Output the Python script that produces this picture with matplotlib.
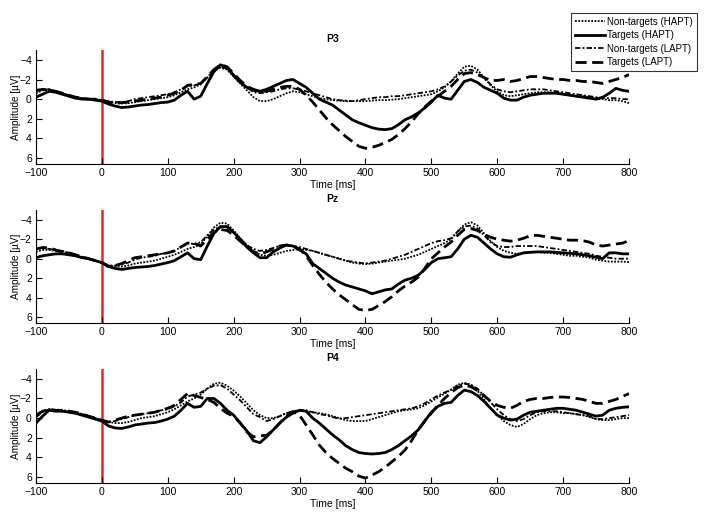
import matplotlib
matplotlib.use('Agg')
import matplotlib.pyplot as plt
import numpy as np

plt.rcParams['font.family'] = ['Liberation Sans', 'DejaVu Sans']

# time axis (ms), 10 ms steps
t = np.arange(-100, 801, 10)

channels = ['P3', 'Pz', 'P4']
labels = ['Non-targets (HAPT)', 'Targets (HAPT)', 'Non-targets (LAPT)', 'Targets (LAPT)']

# ---- P3 ----
p3_nt_hapt = [-0.6, -0.9, -1.0, -0.8, -0.6, -0.4, -0.2, -0.1, 0.0, 0.0, 0.1,
              0.3, 0.4, 0.45, 0.4, 0.3, 0.2, 0.1, 0.0, -0.1, -0.2,
              -0.4, -0.7, -1.0, -1.2, -1.5, -2.2, -2.9, -3.2, -3.0, -2.3,
              -1.6, -0.9, -0.2, 0.2, 0.2, 0.0, -0.3, -0.6, -0.8, -0.7,
              -0.5, -0.3, -0.1, 0.0, 0.1, 0.15, 0.2, 0.2, 0.2, 0.2,
              0.15, 0.1, 0.1, 0.05, 0.0, -0.1, -0.2, -0.3, -0.4, -0.5,
              -0.8, -1.2, -1.8, -2.6, -3.3, -3.4, -3.0, -2.2, -1.4, -0.8,
              -0.4, -0.3, -0.4, -0.5, -0.6, -0.7, -0.7, -0.7, -0.6, -0.5,
              -0.4, -0.3, -0.3, -0.2, 0.0, 0.0, 0.1, 0.1, 0.2, 0.4]
p3_t_hapt = [-0.2, -0.5, -0.8, -0.7, -0.5, -0.3, -0.1, 0.0, 0.0, 0.1, 0.2,
             0.5, 0.7, 0.85, 0.8, 0.7, 0.6, 0.55, 0.45, 0.35, 0.3,
             0.1, -0.4, -0.8, 0.0, -0.3, -1.6, -2.8, -3.5, -3.2, -2.4,
             -1.7, -1.2, -0.9, -0.8, -1.0, -1.3, -1.6, -1.9, -2.0, -1.6,
             -1.2, -0.6, 0.0, 0.3, 0.6, 1.1, 1.6, 2.1, 2.4, 2.65,
             2.9, 3.05, 3.1, 3.0, 2.6, 2.1, 1.8, 1.4, 0.9, 0.3,
             -0.4, -0.1, 0.0, -0.9, -1.8, -2.0, -1.7, -1.2, -0.9, -0.6,
             -0.1, 0.1, 0.1, -0.2, -0.4, -0.5, -0.6, -0.6, -0.6, -0.5,
             -0.4, -0.3, -0.2, -0.1, 0.0, -0.2, -0.6, -1.1, -0.9, -0.8]
p3_nt_lapt = [-0.8, -1.0, -1.0, -0.8, -0.6, -0.4, -0.2, -0.1, 0.0, 0.0, 0.1,
              0.2, 0.3, 0.3, 0.2, 0.0, -0.1, -0.2, -0.3, -0.4, -0.5,
              -0.7, -1.0, -1.3, -1.4, -1.6, -2.2, -2.9, -3.3, -3.1, -2.5,
              -1.8, -1.2, -0.7, -0.6, -0.7, -0.8, -1.0, -1.1, -1.1, -1.0,
              -0.8, -0.6, -0.4, -0.2, 0.0, 0.1, 0.15, 0.2, 0.1, 0.0,
              -0.1, -0.2, -0.2, -0.3, -0.3, -0.4, -0.5, -0.6, -0.7, -0.8,
              -1.0, -1.3, -1.8, -2.4, -2.9, -3.0, -2.7, -2.1, -1.5, -1.0,
              -0.8, -0.7, -0.8, -0.9, -1.0, -1.0, -1.0, -0.9, -0.8, -0.7,
              -0.6, -0.5, -0.4, -0.3, -0.2, -0.1, -0.1, -0.1, 0.0, 0.0]
p3_t_lapt = [-0.9, -1.0, -0.9, -0.8, -0.6, -0.4, -0.2, -0.1, 0.0, 0.0, 0.1,
             0.3, 0.4, 0.35, 0.3, 0.2, 0.1, 0.0, -0.1, -0.2, -0.4,
             -0.6, -0.9, -1.4, -1.5, -1.6, -2.3, -3.0, -3.5, -3.3, -2.6,
             -1.9, -1.3, -1.0, -0.8, -0.8, -1.0, -1.2, -1.3, -1.3, -1.0,
             -0.4, 0.3, 1.1, 1.9, 2.6, 3.2, 3.8, 4.3, 4.8, 5.0,
             4.9, 4.7, 4.4, 4.1, 3.6, 3.0, 2.3, 1.5, 0.8, 0.2,
             -0.3, -0.8, -1.3, -2.0, -2.6, -2.7, -2.5, -2.2, -1.9, -1.9,
             -2.0, -1.8, -1.9, -2.1, -2.3, -2.3, -2.2, -2.1, -2.0, -2.0,
             -1.9, -1.9, -1.8, -1.8, -1.7, -1.6, -1.8, -2.0, -2.2, -2.5]

# ---- Pz ----
pz_nt_hapt = [-0.7, -0.9, -0.9, -0.8, -0.7, -0.6, -0.4, -0.1, 0.0, 0.2, 0.4,
              0.7, 0.8, 0.8, 0.7, 0.5, 0.4, 0.3, 0.2, 0.0, -0.2,
              -0.4, -0.7, -1.0, -1.2, -1.5, -2.3, -3.2, -3.7, -3.6, -2.9,
              -2.1, -1.4, -0.8, -0.4, -0.3, -0.4, -0.6, -0.8, -0.9, -1.0,
              -0.9, -0.8, -0.6, -0.4, -0.2, 0.0, 0.2, 0.4, 0.5, 0.55,
              0.5, 0.4, 0.3, 0.2, 0.1, 0.0, -0.2, -0.4, -0.7, -1.0,
              -1.3, -1.6, -2.0, -2.8, -3.5, -3.75, -3.4, -2.6, -1.8, -1.2,
              -0.8, -0.6, -0.5, -0.6, -0.7, -0.7, -0.6, -0.6, -0.5, -0.4,
              -0.3, -0.3, -0.2, -0.1, 0.1, 0.2, 0.3, 0.3, 0.3, 0.35]
pz_t_hapt = [-0.1, -0.3, -0.4, -0.5, -0.5, -0.4, -0.3, -0.1, 0.0, 0.2, 0.4,
             0.8, 1.0, 1.1, 1.0, 0.9, 0.85, 0.8, 0.7, 0.55, 0.4,
             0.2, -0.2, -0.6, 0.0, 0.1, -1.3, -2.6, -3.3, -3.3, -2.7,
             -2.0, -1.2, -0.6, -0.1, -0.1, -0.7, -1.1, -1.4, -1.3, -0.9,
             -0.5, 0.5, 1.0, 1.5, 2.0, 2.4, 2.7, 2.9, 3.1, 3.3,
             3.6, 3.4, 3.2, 3.1, 2.6, 2.2, 2.0, 1.7, 1.1, 0.4,
             0.0, -0.1, -0.2, -1.0, -2.0, -2.4, -2.2, -1.6, -1.0, -0.5,
             -0.2, -0.15, -0.4, -0.6, -0.65, -0.7, -0.7, -0.7, -0.65, -0.6,
             -0.55, -0.5, -0.4, -0.3, -0.15, 0.0, -0.6, -0.6, -0.5, -0.5]
pz_nt_lapt = [-1.0, -1.1, -1.0, -0.9, -0.8, -0.6, -0.4, -0.2, 0.0, 0.2, 0.4,
              0.7, 0.7, 0.6, 0.4, 0.1, -0.1, -0.2, -0.3, -0.5, -0.6,
              -0.8, -1.2, -1.6, -1.5, -1.7, -2.4, -3.0, -3.3, -3.2, -2.7,
              -2.0, -1.4, -1.0, -0.8, -0.9, -1.1, -1.3, -1.4, -1.3, -1.2,
              -1.0, -0.8, -0.6, -0.4, -0.2, 0.0, 0.2, 0.3, 0.4, 0.5,
              0.4, 0.3, 0.2, 0.0, -0.2, -0.4, -0.7, -1.0, -1.3, -1.6,
              -1.8, -1.9, -2.1, -2.8, -3.3, -3.4, -3.1, -2.4, -1.7, -1.3,
              -1.2, -1.2, -1.3, -1.3, -1.3, -1.3, -1.2, -1.1, -1.0, -0.9,
              -0.8, -0.7, -0.6, -0.5, -0.3, -0.2, -0.1, 0.0, 0.0, 0.0]
pz_t_lapt = [-1.0, -1.15, -1.1, -0.9, -0.7, -0.6, -0.4, -0.2, 0.0, 0.2, 0.4,
             0.8, 0.7, 0.5, 0.2, -0.1, -0.2, -0.3, -0.4, -0.5, -0.6,
             -0.8, -1.2, -1.6, -1.6, -1.3, -2.0, -2.7, -3.0, -2.9, -2.4,
             -1.8, -1.2, -0.7, -0.5, -0.7, -1.0, -1.3, -1.4, -1.3, -1.0,
             -0.3, 0.7, 1.6, 2.4, 3.1, 3.7, 4.2, 4.7, 5.2, 5.3,
             5.2, 4.8, 4.4, 3.9, 3.3, 2.8, 2.4, 1.9, 1.0, 0.0,
             -0.6, -1.2, -1.7, -2.4, -3.0, -3.1, -2.9, -2.5, -2.2, -2.0,
             -1.9, -1.8, -1.9, -2.1, -2.35, -2.4, -2.3, -2.2, -2.1, -2.0,
             -1.9, -1.9, -1.85, -1.7, -1.4, -1.3, -1.4, -1.5, -1.6, -1.85]

# ---- P4 ----
p4_nt_hapt = [-0.4, -0.7, -0.9, -0.8, -0.8, -0.7, -0.6, -0.4, -0.2, 0.0, 0.2,
              0.4, 0.5, 0.5, 0.4, 0.2, 0.0, -0.1, -0.2, -0.4, -0.6,
              -0.9, -1.3, -1.7, -2.0, -2.4, -3.0, -3.5, -3.6, -3.3, -2.8,
              -2.2, -1.5, -0.8, -0.3, 0.0, 0.0, -0.2, -0.5, -0.7, -0.8,
              -0.7, -0.6, -0.5, -0.4, -0.2, 0.0, 0.2, 0.3, 0.3, 0.3,
              0.1, -0.1, -0.3, -0.5, -0.7, -0.8, -0.9, -1.0, -1.3, -1.7,
              -2.1, -2.5, -2.9, -3.4, -3.6, -3.4, -2.8, -1.9, -1.0, -0.3,
              0.3, 0.7, 0.9, 0.6, 0.1, -0.3, -0.5, -0.6, -0.6, -0.5,
              -0.5, -0.4, -0.3, -0.1, 0.1, 0.2, 0.2, 0.1, 0.0, 0.0]
p4_t_hapt = [0.5, -0.2, -0.8, -0.7, -0.7, -0.6, -0.5, -0.3, -0.1, 0.1, 0.3,
             0.8, 1.0, 1.05, 0.9, 0.7, 0.6, 0.5, 0.45, 0.3, 0.1,
             -0.2, -0.8, -1.5, -1.1, -1.2, -2.0, -2.0, -1.5, -0.8, -0.3,
             0.5, 1.3, 2.3, 2.5, 1.9, 1.2, 0.5, -0.1, -0.5, -0.8,
             -0.7, 0.0, 0.5, 1.1, 1.7, 2.2, 2.8, 3.2, 3.5, 3.6,
             3.65, 3.6, 3.5, 3.2, 2.8, 2.3, 1.8, 1.2, 0.3, -0.6,
             -1.2, -1.5, -1.6, -2.3, -2.85, -2.7, -2.3, -1.7, -1.0, -0.3,
             0.0, 0.2, 0.1, -0.3, -0.6, -0.7, -0.8, -0.9, -1.0, -1.0,
             -0.9, -0.8, -0.6, -0.4, -0.2, -0.3, -0.8, -1.0, -1.1, -1.15]
p4_nt_lapt = [-0.1, -0.6, -0.9, -0.8, -0.8, -0.7, -0.6, -0.4, -0.2, 0.0, 0.2,
              0.4, 0.3, 0.1, -0.1, -0.3, -0.4, -0.5, -0.6, -0.8, -0.9,
              -1.2, -1.6, -2.2, -2.4, -2.6, -3.0, -3.3, -3.35, -3.0, -2.4,
              -1.8, -1.1, -0.4, -0.1, 0.3, 0.1, -0.2, -0.5, -0.7, -0.8,
              -0.8, -0.6, -0.4, -0.3, -0.1, 0.05, 0.0, -0.1, -0.2, -0.3,
              -0.4, -0.5, -0.6, -0.7, -0.8, -0.9, -1.0, -1.2, -1.5, -1.9,
              -2.3, -2.6, -2.9, -3.3, -3.5, -3.4, -3.0, -2.3, -1.6, -0.9,
              -0.3, 0.1, 0.3, 0.1, -0.3, -0.6, -0.7, -0.7, -0.7, -0.6,
              -0.5, -0.4, -0.3, -0.2, 0.1, 0.1, 0.0, -0.1, -0.2, -0.3]
p4_t_lapt = [-0.3, -0.7, -0.9, -0.8, -0.8, -0.7, -0.6, -0.4, -0.2, 0.0, 0.2,
             0.4, 0.2, 0.0, -0.2, -0.3, -0.4, -0.5, -0.6, -0.8, -1.0,
             -1.3, -1.9, -2.5, -2.3, -2.1, -1.9, -1.6, -1.0, -0.5, -0.2,
             0.5, 1.4, 1.9, 1.8, 1.75, 1.2, 0.5, -0.2, -0.65, -0.3,
             0.7, 1.7, 2.75, 3.5, 4.1, 4.6, 5.1, 5.45, 5.9, 6.1,
             5.8, 5.45, 5.0, 4.45, 3.9, 3.25, 2.3, 1.2, 0.3, -0.5,
             -1.3, -2.0, -2.6, -3.1, -3.35, -3.2, -2.8, -2.3, -1.7, -1.3,
             -1.1, -1.0, -1.3, -1.7, -1.9, -2.0, -2.0, -2.1, -2.15, -2.15,
             -2.1, -2.0, -1.9, -1.7, -1.5, -1.5, -1.7, -1.9, -2.2, -2.5]

data = {
    'P3': [p3_nt_hapt, p3_t_hapt, p3_nt_lapt, p3_t_lapt],
    'Pz': [pz_nt_hapt, pz_t_hapt, pz_nt_lapt, pz_t_lapt],
    'P4': [p4_nt_hapt, p4_t_hapt, p4_nt_lapt, p4_t_lapt],
}

# line styles: dotted thin, solid thick, dash-dot thin, dashed thick
styles = [
    dict(linestyle=(0, (1, 0.8)), linewidth=1.3),
    dict(linestyle='-', linewidth=2.0),
    dict(linestyle=(0, (3, 1.2, 1, 1.2)), linewidth=1.3),
    dict(linestyle=(0, (4, 2)), linewidth=2.0),
]

fig = plt.figure(figsize=(7.07, 5.2), dpi=100)

# axes boxes in figure fraction [left, bottom, width, height]
boxes = [
    [0.0509, 0.6846, 0.8388, 0.2192],
    [0.0509, 0.3788, 0.8388, 0.2174],
    [0.0509, 0.0712, 0.8388, 0.2192],
]

axes = []
for ch, box in zip(channels, boxes):
    ax = fig.add_axes(box)
    axes.append(ax)
    ax.axvline(0, color='#e8262a', linewidth=1.8, zorder=1)
    for vals, st, lab in zip(data[ch], styles, labels):
        ax.plot(t, vals, color='black', label=lab, zorder=2,
                solid_joinstyle='round', **st)
    ax.set_xlim(-100, 800)
    ax.set_ylim(6.6, -5)
    ax.set_xticks(np.arange(-100, 801, 100))
    ax.set_yticks([-4, -2, 0, 2, 4, 6])
    ax.tick_params(direction='in', length=4, width=0.8, labelsize=7.5, pad=3)
    ax.spines['top'].set_visible(False)
    ax.spines['right'].set_visible(False)
    ax.spines['left'].set_linewidth(0.8)
    ax.spines['bottom'].set_linewidth(0.8)
    ax.set_title(ch, fontsize=7.5, fontweight='bold', pad=6)
    ax.set_xlabel('Time [ms]', fontsize=7.5, labelpad=1)
    ax.set_ylabel('Amplitude [µV]', fontsize=7.2, labelpad=-1)

h, l = axes[0].get_legend_handles_labels()
leg = fig.legend(h, l, loc='upper right', bbox_to_anchor=(0.986, 0.975),
                 fontsize=7, frameon=True, fancybox=False, edgecolor='black',
                 handlelength=3.0, handletextpad=0.3, borderpad=0.4,
                 labelspacing=0.35, borderaxespad=0)
leg.get_frame().set_linewidth(0.8)

fig.savefig('out.png', dpi=100)
